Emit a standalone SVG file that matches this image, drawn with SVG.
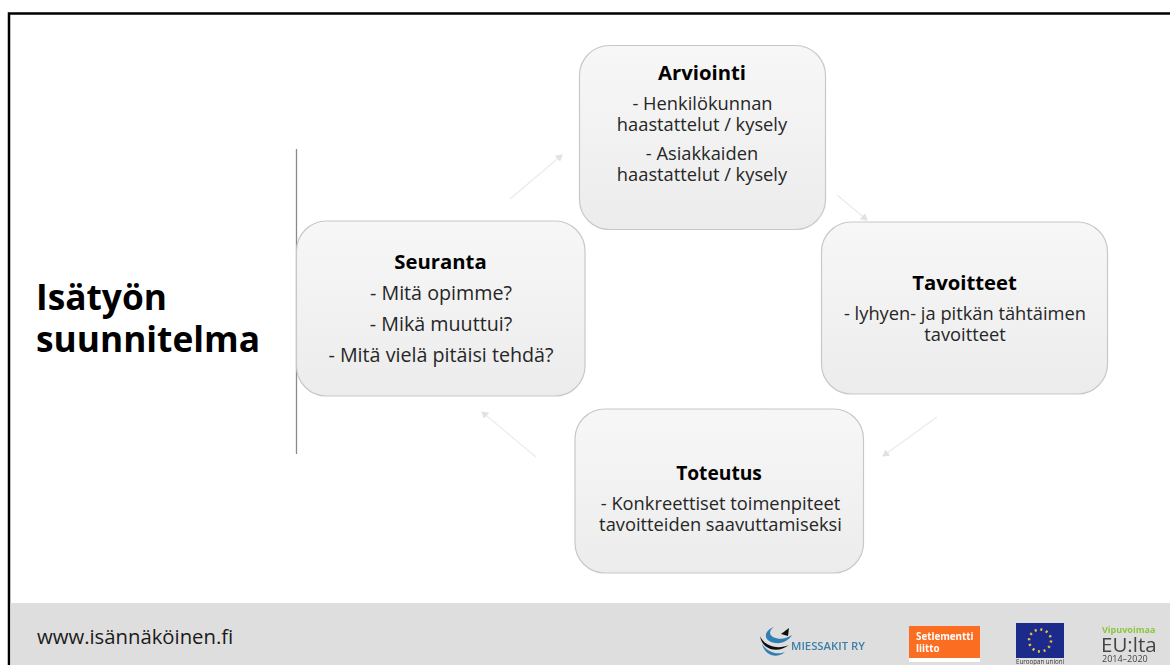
<svg xmlns="http://www.w3.org/2000/svg" width="1170" height="665" viewBox="0 0 1170 665">
<style>
text{font-family:"Open Sans","Noto Sans","Liberation Sans",sans-serif;fill:#1c1c1c;text-anchor:middle}
.n{fill:url(#g);stroke:#c8c8c8;stroke-width:1.200}
.h{font-size:20.300px;font-weight:700;fill:#000}
.b{font-size:18.300px;fill:#262626}
.b2{font-size:19.700px;fill:#262626}
.c{fill:none;stroke:#ebebeb;stroke-width:1.200;marker-end:url(#a)}
.l{text-anchor:start}
</style>
<defs>
<linearGradient id="g" x1="0" y1="0" x2="0" y2="1"><stop offset="0" stop-color="#f7f7f7"/><stop offset="1" stop-color="#ececec"/></linearGradient>
<marker id="a" markerWidth="8" markerHeight="8" refX="6" refY="4" orient="auto" markerUnits="userSpaceOnUse"><path d="M0 0L7 4L0 8Z" fill="#e2e2e2"/></marker>
<filter id="s" x="-5%" y="-5%" width="110%" height="110%"><feGaussianBlur stdDeviation="0.6"/></filter>
</defs>
<rect width="1170" height="665" fill="#fff"/>
<path id="frame" d="M9 665V13.500H1170" fill="none" stroke="#000" stroke-width="2.500"/>
<rect id="footer" x="10.500" y="603" width="1159.500" height="62" fill="#dedede"/>
<path id="divider" d="M296.500 149V454" stroke="#8a8a8a" stroke-width="1.300"/>
<g id="title">
<text class="l" x="36" y="310" style="font-size:35.300px;font-weight:700;fill:#000">Isätyön</text>
<text class="l" x="36" y="352" style="font-size:35.300px;font-weight:700;fill:#000">suunnitelma</text>
</g>
<g id="connectors">
<path class="c" d="M510 199L562 155"/>
<path class="c" d="M837 195L867 220"/>
<path class="c" d="M937 417L883 456"/>
<path class="c" d="M536 457L482 412"/>
</g>
<g id="arviointi">
<rect class="n" x="579.500" y="45.500" width="246" height="184" rx="30"/>
<text class="h" x="702" y="80">Arviointi</text>
<text class="b" x="702.500" y="110">- Henkilökunnan</text>
<text class="b" x="702" y="131">haastattelut / kysely</text>
<text class="b" x="702" y="160">- Asiakkaiden</text>
<text class="b" x="702" y="181">haastattelut / kysely</text>
</g>
<g id="tavoitteet">
<rect class="n" x="821.500" y="222" width="286" height="172" rx="30"/>
<text class="h" x="964.500" y="290">Tavoitteet</text>
<text class="b" x="965" y="320">- lyhyen- ja pitkän tähtäimen</text>
<text class="b" x="965" y="341">tavoitteet</text>
</g>
<g id="toteutus">
<rect class="n" x="575" y="409" width="288.500" height="164" rx="30"/>
<text class="h" x="719" y="480" style="font-size:19.200px">Toteutus</text>
<text class="b" x="720.500" y="510">- Konkreettiset toimenpiteet</text>
<text class="b" x="720.500" y="531">tavoitteiden saavuttamiseksi</text>
</g>
<g id="seuranta">
<rect class="n" x="296.500" y="221" width="288.500" height="175" rx="30"/>
<text class="h" x="440.500" y="269">Seuranta</text>
<text class="b2" x="441" y="300">- Mitä opimme?</text>
<text class="b2" x="441" y="331">- Mikä muuttui?</text>
<text class="b2" x="441" y="362">- Mitä vielä pitäisi tehdä?</text>
</g>
<text id="url" class="l" x="37" y="644" style="font-size:20.300px;fill:#1a1a1a">www.isännäköinen.fi</text>
<g id="logos" filter="url(#s)">
<g id="miessakit">
<path d="M774 627C763 631 763 641 775 643C783 644 789 640 792 635C786 639 779 640 773 637C769 635 769 630 774 627Z" fill="#2f7fb5"/>
<path d="M760 636C764 646 778 650 789 645C778 654 762 650 760 636Z" fill="#111"/>
<path d="M762 644C768 653 778 655 785 652C777 659 765 656 762 644Z" fill="#2f7fb5"/>
<path d="M781 634L789 628L788 636Z" fill="#111"/>
<text class="l" x="791" y="650" style="font-size:11.300px;font-weight:600;fill:#3f7fa8">MIESSAKIT RY</text>
</g>
<g id="setlementti">
<rect x="909" y="626" width="71" height="36" fill="#fb6e23"/>
<rect x="909" y="658" width="71" height="4" fill="#fff"/>
<text class="l" x="916" y="640" style="font-size:9.800px;font-weight:700;fill:#fff">Setlementti</text>
<text class="l" x="916" y="652" style="font-size:9.800px;font-weight:700;fill:#fff">liitto</text>
</g>
<g id="eu">
<rect x="1016" y="623" width="48" height="35" fill="#1c2a8c"/>
<circle cx="1040" cy="640.500" r="11" fill="none" stroke="#e8c93a" stroke-width="2.500" stroke-dasharray="2 3.760"/>
<text x="1040" y="664" style="font-size:6.200px;fill:#333">Euroopan unioni</text>
</g>
<g id="vipuvoimaa">
<text class="l" x="1102" y="633" style="font-size:9px;font-weight:700;fill:#8cc63f">Vipuvoimaa</text>
<text class="l" x="1101" y="652" style="font-size:20.500px;fill:#444">EU:lta</text>
<text class="l" x="1102" y="662" style="font-size:9px;fill:#444">2014–2020</text>
</g>
</g>
</svg>
